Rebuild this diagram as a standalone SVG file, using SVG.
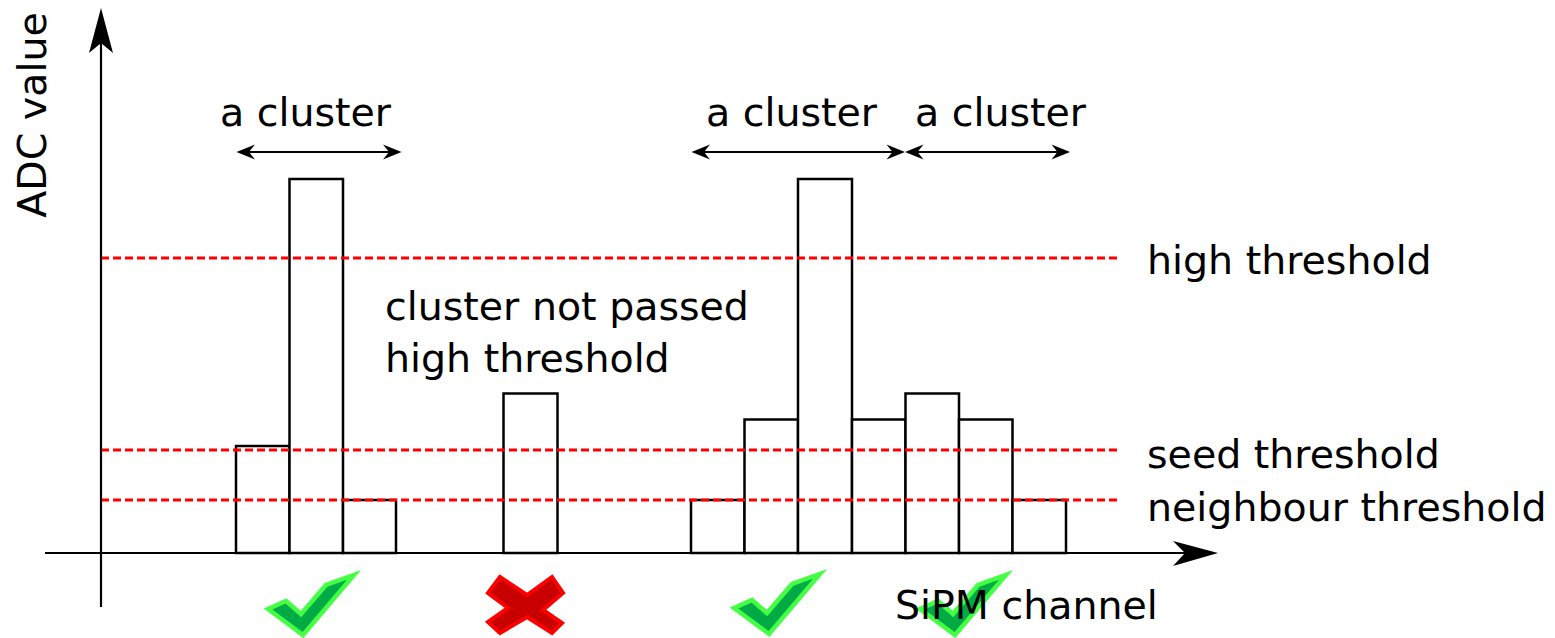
<svg xmlns="http://www.w3.org/2000/svg" width="1555" height="638" viewBox="0 0 1555 638">
<style>
text{font-family:"DejaVu Sans","Liberation Sans",sans-serif;font-size:39.5px;fill:#000}
.bar{fill:#fff;stroke:#000;stroke-width:2.5}
.thr{stroke:#ff0000;stroke-width:3;stroke-dasharray:8,4;fill:none}
.ax{stroke:#000;stroke-width:2.2;fill:none}
.span{stroke:#000;stroke-width:2.2;fill:none}
.head{fill:#000}
.ok{fill:#00aa44;stroke:#44ff44;stroke-width:4.5;stroke-linejoin:miter}
.no{fill:#c80000;stroke:#ff0000;stroke-width:4}
</style>
<rect width="1555" height="638" fill="#fff"/>
<g id="bars-left">
<rect class="bar" x="236" y="446" width="53.5" height="107"/>
<rect class="bar" x="289.5" y="179" width="53.5" height="374"/>
<rect class="bar" x="343" y="500" width="53" height="53"/>
</g>
<g id="bar-middle">
<rect class="bar" x="503.5" y="393.5" width="54" height="159.5"/>
</g>
<g id="bars-right">
<rect class="bar" x="691" y="500" width="53.5" height="53"/>
<rect class="bar" x="744.5" y="419.5" width="53.5" height="133.5"/>
<rect class="bar" x="798" y="179" width="54" height="374"/>
<rect class="bar" x="852" y="419.5" width="53.5" height="133.5"/>
<rect class="bar" x="905.5" y="393.5" width="53.5" height="159.5"/>
<rect class="bar" x="959" y="419.5" width="53.5" height="133.5"/>
<rect class="bar" x="1012.5" y="500" width="53.5" height="53"/>
</g>
<g id="thresholds">
<line class="thr" x1="101" y1="258" x2="1120" y2="258"/>
<line class="thr" x1="101" y1="450" x2="1120" y2="450"/>
<line class="thr" x1="101" y1="500" x2="1120" y2="500"/>
</g>
<g id="connectors">
<line class="ax" x1="45" y1="553" x2="1190" y2="553"/>
<polygon class="head" points="1218,553 1173,541 1185,553 1173,566"/>
<line class="ax" x1="101" y1="607" x2="101" y2="38"/>
<polygon class="head" points="101,8 89,53 101,43 113,53"/>
<line class="span" x1="245" y1="152" x2="393" y2="152"/>
<polygon class="head" points="236.5,152 255,144.5 249,152 255,159.5"/>
<polygon class="head" points="401.5,152 383,144.5 389,152 383,159.5"/>
<line class="span" x1="700" y1="152" x2="897" y2="152"/>
<polygon class="head" points="691.5,152 710,144.5 704,152 710,159.5"/>
<polygon class="head" points="905,152 886.5,144.5 892.5,152 886.5,159.5"/>
<line class="span" x1="913" y1="152" x2="1061" y2="152"/>
<polygon class="head" points="905,152 923.5,144.5 917.5,152 923.5,159.5"/>
<polygon class="head" points="1070,152 1051.5,144.5 1057.5,152 1051.5,159.5"/>
</g>
<g id="marks">
<polygon id="check1" class="ok" points="268,609 286,601 301,614 326,585 354,575 303,635"/>
<polygon id="cross" class="no" points="488,593 500,577 527,595 552,577 563,593 543,610 562,623 552,633 527,617 500,633 488,622 508,608"/>
<polygon id="check2" class="ok" points="734,608 752,600 767,613 792,584 820,574 769,634"/>
<polygon id="check3" class="ok" points="920,609 938,601 953,614 978,585 1006,575 955,635"/>
</g>
<g id="labels">
<text x="220" y="126">a cluster</text>
<text x="706" y="126">a cluster</text>
<text x="915" y="126">a cluster</text>
<text x="1147" y="274">high threshold</text>
<text x="385" y="320">cluster not passed</text>
<text x="385" y="372">high threshold</text>
<text x="1147" y="468">seed threshold</text>
<text x="1147" y="521">neighbour threshold</text>
<text x="895" y="619">SiPM channel</text>
<text x="46" y="115" text-anchor="middle" transform="rotate(-90 46 115)">ADC value</text>
</g>
</svg>
